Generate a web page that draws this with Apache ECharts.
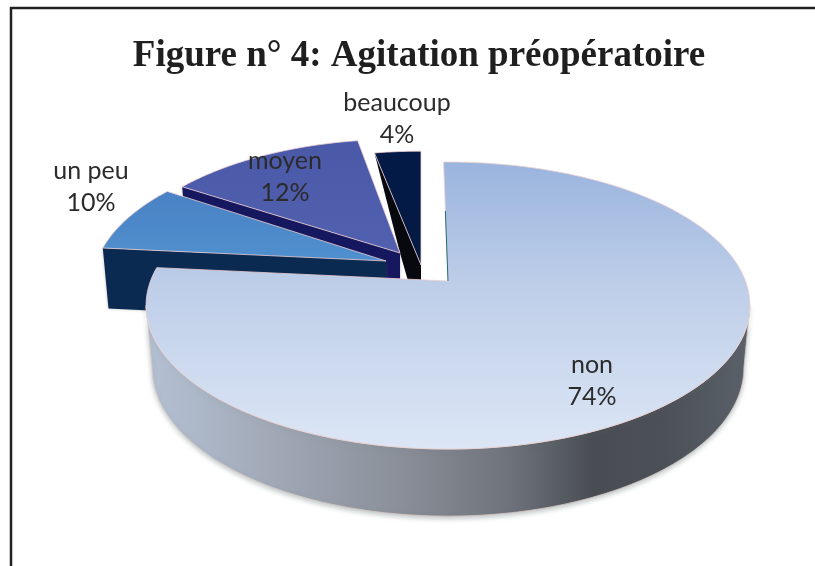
<!DOCTYPE html>
<html><head><meta charset="utf-8">
<style>html,body{margin:0;padding:0;background:#fff}#c{width:815px;height:566px}</style>
<script src="https://cdn.jsdelivr.net/npm/echarts@6/dist/echarts.min.js"></script>
</head><body><div id="c"></div>
<script>
const categories = ['non', 'un peu', 'moyen', 'beaucoup'];
const percents = [74, 10, 12, 4];
const titleText = 'Figure n° 4: Agitation préopératoire';

// View of the tilted, exploded pie (not data)
const view = { cx: 448, cy: 281, w: 297.5, h: 139.3, k: 0.171, depth: 61, shrink: 0.98 };
const startShift = [-1, 9.2, 0.6, 3.4];
const endShift = [9.2, 1.8, 4.4, 0];
const sliceShiftX = [0, -62, -48, -27];
const sliceShiftY = [0, -20, -28, -16];
const sliceRadius = [1, 0.972, 0.95, 0.95];
const labelX = [592, 91, 285, 397];
const labelY = [381, 187, 177, 119];
const sliceZ = [40, 30, 20, 10];
const sideColors = ['', '#0b2a52', '#15185f', '#07090f'];
const topColors = [
  ['#9ab4de', '#bfcfe9', '#dce6f5'],
  ['#4a82c4', '#4c88c9', '#5090cf'],
  ['#4a58a8', '#4e5cac', '#5260b0'],
  ['#041a46', '#041a46', '#041a42']
];

const total = percents.reduce((a, b) => a + b, 0);
const boundaries = [0];
percents.forEach((p, i) => boundaries.push(boundaries[i] + p / total * 360));

function project(deg, r, i, lower) {
  const t = deg * Math.PI / 180, u = Math.sin(t) * r, v = Math.cos(t) * r;
  const den = 1 + view.k * v;
  const ax = view.cx + sliceShiftX[i], ay = view.cy + sliceShiftY[i];
  let x = ax + view.w * u / den, y = ay - view.h * v / den;
  if (lower) {
    x = ax + (x - ax) * view.shrink;
    y += view.depth * (1 - 0.1 * v);
  }
  return [x, y];
}
function rim(a0, a1, r, i, lower) {
  const pts = [], n = Math.ceil(Math.abs(a1 - a0));
  for (let s = 0; s <= n; s++) pts.push(project(a0 + (a1 - a0) * s / n, r, i, lower));
  return pts;
}

function renderItem(params, api) {
  const i = params.dataIndex;
  const value = api.value(0);
  const a0 = boundaries[i] + startShift[i], a1 = boundaries[i + 1] + endShift[i];
  const r = sliceRadius[i];
  const z = sliceZ[i];
  const children = [];
  const apex = project(0, 0, i, false), apexLow = project(0, 0, i, true);

  if (i === 0) {
    const e = Math.acos(-view.k) * 180 / Math.PI;
    const pts = rim(e, 360 - e, r, i, false).concat(rim(360 - e, e, r, i, true));
    children.push({
      type: 'polygon', z2: z, shape: { points: pts },
      style: {
        stroke: '#d9c9c4', lineWidth: 0.8,
        shadowColor: 'rgba(110,125,125,0.45)', shadowBlur: 5, shadowOffsetY: 2,
        fill: new echarts.graphic.LinearGradient(0, 0, 1, 0, [
          { offset: 0, color: '#b4c1d3' }, { offset: 0.2, color: '#a2aab8' },
          { offset: 0.42, color: '#8a8f99' }, { offset: 0.6, color: '#6f737c' },
          { offset: 0.74, color: '#494d53' }, { offset: 0.86, color: '#4c5157' },
          { offset: 1, color: '#5b616a' }
        ])
      }
    });
  } else if (i === 3) {
    const prevApex = project(0, 0, 2, false);
    children.push({
      type: 'polygon', z2: z, shape: { points: [project(a0, r, i, false), apex, apexLow, prevApex] },
      style: { fill: sideColors[i] }
    });
  } else {
    children.push({
      type: 'polygon', z2: z,
      shape: { points: [project(a0, r, i, false), apex, apexLow, project(a0, r, i, true)] },
      style: { fill: sideColors[i], shadowColor: 'rgba(90,90,90,0.4)', shadowBlur: 3 }
    });
  }

  children.push({
    type: 'polygon', z2: z + 1, shape: { points: [apex].concat(rim(a0, a1, r, i, false)) },
    style: {
      stroke: '#eecfd0', lineWidth: 0.8, lineJoin: 'round',
      fill: new echarts.graphic.LinearGradient(0, 0, 0, 1, [
        { offset: 0, color: topColors[i][0] },
        { offset: 0.45, color: topColors[i][1] },
        { offset: 1, color: topColors[i][2] }
      ])
    }
  });

  if (i === 0) {
    // thin dark sliver of the cut face along the start edge
    children.push({
      type: 'polyline', z2: z + 2,
      shape: { points: [project(a0, 0.55, i, false), apex] },
      style: { stroke: '#1e6a78', lineWidth: 1, fill: null }
    });
  }

  children.push({
    type: 'text', z2: 60,
    style: {
      x: labelX[i], y: labelY[i],
      text: categories[i] + '\n' + value + '%',
      font: '25px Lato, "Open Sans", sans-serif', lineHeight: 32,
      fill: '#2b2b2b', align: 'center', verticalAlign: 'middle'
    }
  });
  return { type: 'group', children };
}

const chart = echarts.init(document.getElementById('c'));
chart.setOption({
  animation: false,
  backgroundColor: '#ffffff',
  title: {
    text: titleText, left: 414, top: 33, textAlign: 'center',
    textStyle: { fontFamily: '"Liberation Serif", serif', fontWeight: 'bold', fontSize: 37, color: '#1f1f1f' }
  },
  graphic: [{
    type: 'rect', silent: true, z: -1,
    shape: { x: 11, y: 8, width: 815, height: 570 },
    style: { fill: '#fff', stroke: '#222', lineWidth: 2.5 }
  }],
  series: [{
    type: 'custom', coordinateSystem: 'none', silent: true,
    data: percents.map((p, i) => ({ name: categories[i], value: [p] })),
    renderItem
  }]
});
</script></body></html>
